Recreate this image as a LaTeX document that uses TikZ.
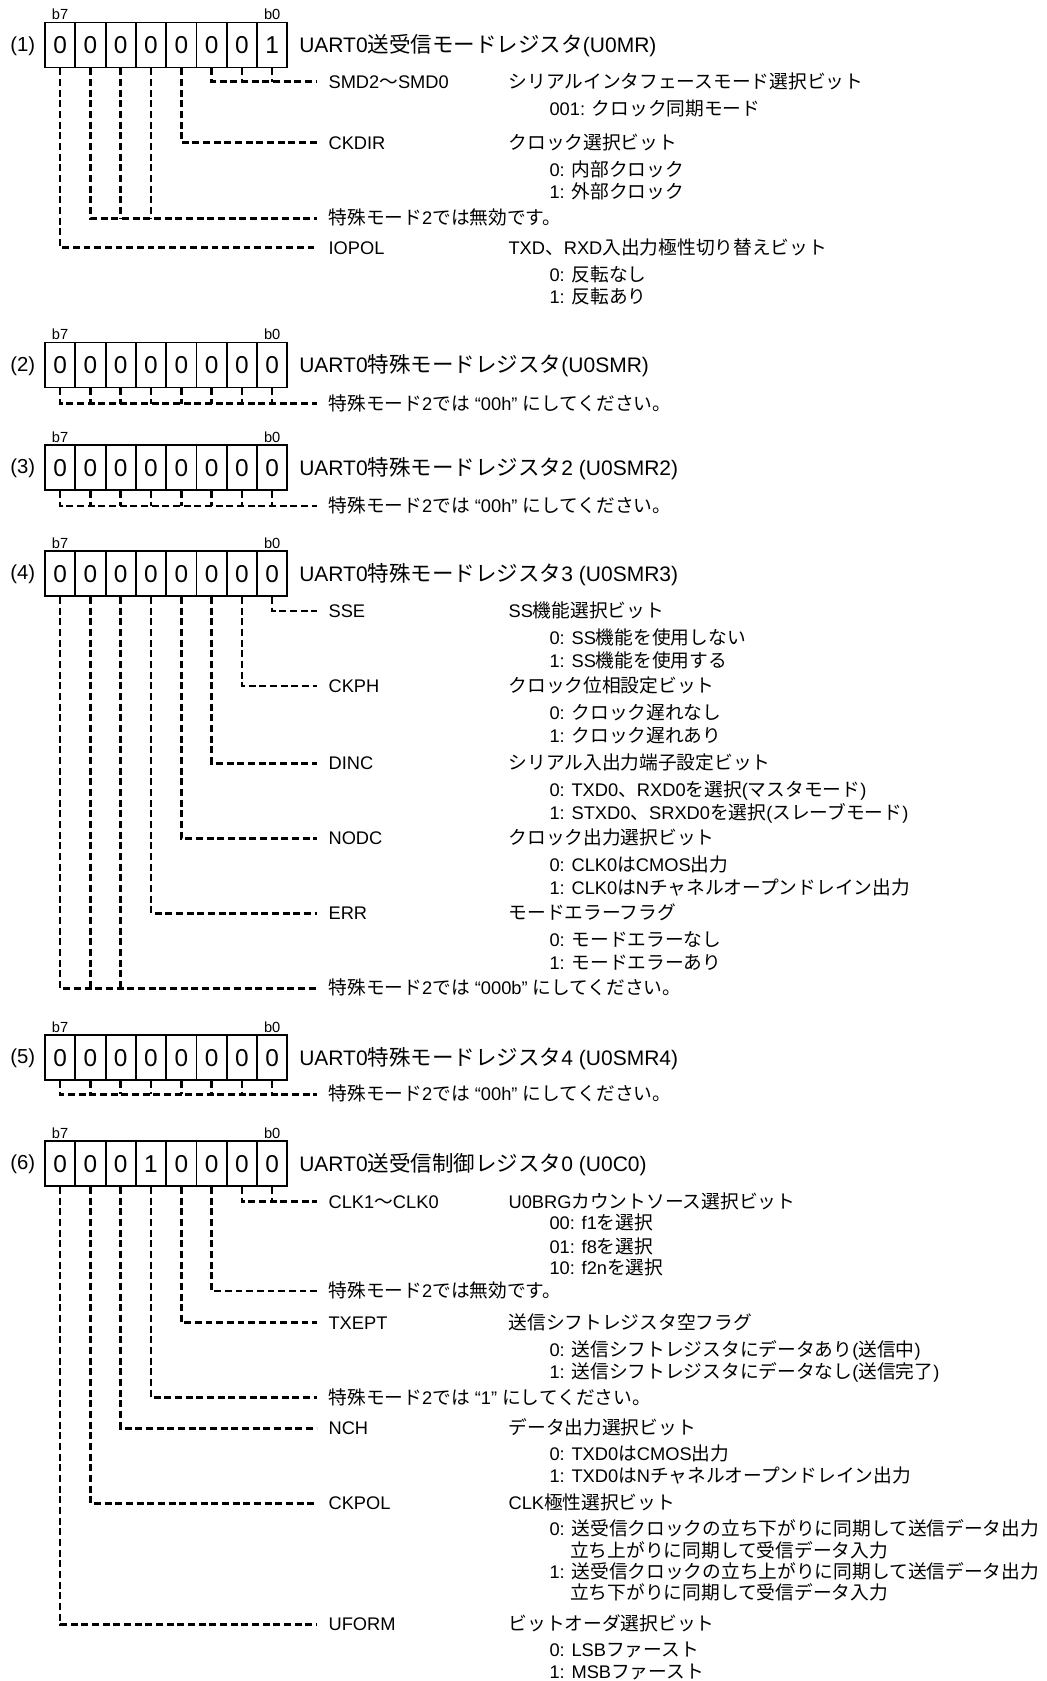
\documentclass[tikz,border=0pt]{standalone}
\usepackage{fontspec}
\setmainfont{Liberation Sans}
\newfontfamily\jpfont{Noto Sans CJK JP}[Scale=1.025]
\newXeTeXintercharclass\JPcls
\newcount\jpc
\newcommand\setcls[3]{\jpc=#1\relax\loop\XeTeXcharclass\jpc=#3\relax\ifnum\jpc<#2\relax\advance\jpc by 1\repeat}
\setcls{"0020}{"007E}{0}
\setcls{"2018}{"201D}{0}
\setcls{"3000}{"30FF}{\JPcls}
\setcls{"4E00}{"9FFF}{\JPcls}
\setcls{"FF00}{"FFEF}{\JPcls}
\XeTeXinterchartoks 0 \JPcls = {\begingroup\jpfont}
\XeTeXinterchartoks 4095 \JPcls = {\begingroup\jpfont}
\XeTeXinterchartoks \JPcls 0 = {\endgroup}
\XeTeXinterchartoks \JPcls 4095 = {\endgroup}
\XeTeXinterchartokenstate=1
\tikzset{
 cell/.style={draw, line width=1.4pt, minimum width=22.72pt, minimum height=33.75pt, inner sep=0pt,
   font=\fontsize{18.3}{20}\selectfont, text height=13.1pt, text depth=0pt},
 bitlbl/.style={anchor=base, inner sep=0pt, font=\fontsize{11}{12}\selectfont},
 numlbl/.style={anchor=base west, inner sep=0pt, font=\fontsize{15.2}{17}\selectfont},
 regtitle/.style={anchor=west, inner sep=0pt, font=\fontsize{15.75}{18}\selectfont, text height=11.3pt, text depth=0pt},
 txt/.style={anchor=west, inner sep=0pt, font=\fontsize{13.7}{16}\selectfont, text height=9.8pt, text depth=0pt},
 dl/.style={line width=1.9pt, dash pattern=on 5.2pt off 2.8pt},
}
% register: prefix, top y, number label, values, title
\newcommand\regbox[5]{%
 \foreach \v [count=\i from 0] in {#4} {%
   \pgfmathtruncatemacro\bb{7-\i}%
   \node[cell] (#1\bb) at ({60.15+30.29*\i},{#2+22.5}) {\v};
 }
 \node[bitlbl] (#1bsev) at (60.15,{#2-3}) {b7};
 \node[bitlbl] (#1bzero) at (272.2,{#2-3}) {b0};
 \node[numlbl] (#1num) at (10,{#2+28.5}) {#3};
 \node[regtitle] (#1title) at (299,{#2+22.5}) {#5};
}
\newcommand\T[4]{\node[txt] (#1) at (#2,#3) {#4};}
\newcommand\cone[2]{\draw[dl] (#1.south) |- ([xshift=-8.7pt]#2.west);}
\newcommand\cgrp[3]{\draw[dl] (#1.south) |- ([xshift=-8.7pt]#3.west);
 \foreach \q in {#2} {\draw[dl] (\q.south) -- (\q.south |- #3.west);}}
\begin{document}
\begin{tikzpicture}[x=0.75pt,y=-0.75pt]
\fill[white] (0,0) rectangle (1046,1681);
\useasboundingbox (0,0) rectangle (1046,1681);

% ---------------- (1)
\regbox{a}{22.5}{(1)}{0,0,0,0,0,0,0,1}{UART0送受信モードレジスタ(U0MR)}
\T{aL1}{328.3}{81.7}{SMD2～SMD0}
\T{aL2}{328.3}{142.7}{CKDIR}
\T{aL3}{328.3}{218.3}{特殊モード2では無効です。}
\T{aL4}{328.3}{247.7}{IOPOL}
\T{aD1}{508.3}{81.7}{シリアルインタフェースモード選択ビット}
\T{aS1}{549.3}{108.7}{001: クロック同期モード}
\T{aD2}{508.3}{142.7}{クロック選択ビット}
\T{aS2}{549.3}{169.7}{0: 内部クロック}
\T{aS3}{549.3}{192.2}{1: 外部クロック}
\T{aD4}{508.3}{247.7}{TXD、RXD入出力極性切り替えビット}
\T{aS4}{549.3}{274.7}{0: 反転なし}
\T{aS5}{549.3}{297.2}{1: 反転あり}
\cgrp{a2}{a1,a0}{aL1}
\cone{a3}{aL2}
\cgrp{a6}{a5,a4}{aL3}
\cone{a7}{aL4}

% ---------------- (2)
\regbox{b}{342.5}{(2)}{0,0,0,0,0,0,0,0}{UART0特殊モードレジスタ(U0SMR)}
\T{bL1}{328.3}{403.5}{特殊モード2では “00h” にしてください。}
\cgrp{b7}{b6,b5,b4,b3,b2,b1,b0}{bL1}

% ---------------- (3)
\regbox{c}{445}{(3)}{0,0,0,0,0,0,0,0}{UART0特殊モードレジスタ2 (U0SMR2)}
\T{cL1}{328.3}{506}{特殊モード2では “00h” にしてください。}
\cgrp{c7}{c6,c5,c4,c3,c2,c1,c0}{cL1}

% ---------------- (4)
\regbox{d}{551}{(4)}{0,0,0,0,0,0,0,0}{UART0特殊モードレジスタ3 (U0SMR3)}
\T{dL1}{328.3}{611}{SSE}
\T{dL2}{328.3}{686}{CKPH}
\T{dL3}{328.3}{763.3}{DINC}
\T{dL4}{328.3}{838.3}{NODC}
\T{dL5}{328.3}{913.3}{ERR}
\T{dL6}{328.3}{988.3}{特殊モード2では “000b” にしてください。}
\T{dD1}{508.3}{611}{SS機能選択ビット}
\T{dS1a}{549.3}{638}{0: SS機能を使用しない}
\T{dS1b}{549.3}{660.5}{1: SS機能を使用する}
\T{dD2}{508.3}{686}{クロック位相設定ビット}
\T{dS2a}{549.3}{713}{0: クロック遅れなし}
\T{dS2b}{549.3}{735.5}{1: クロック遅れあり}
\T{dD3}{508.3}{763.3}{シリアル入出力端子設定ビット}
\T{dS3a}{549.3}{790.3}{0: TXD0、RXD0を選択(マスタモード)}
\T{dS3b}{549.3}{812.8}{1: STXD0、SRXD0を選択(スレーブモード)}
\T{dD4}{508.3}{838.3}{クロック出力選択ビット}
\T{dS4a}{549.3}{865.3}{0: CLK0はCMOS出力}
\T{dS4b}{549.3}{887.8}{1: CLK0はNチャネルオープンドレイン出力}
\T{dD5}{508.3}{913.3}{モードエラーフラグ}
\T{dS5a}{549.3}{940.3}{0: モードエラーなし}
\T{dS5b}{549.3}{962.8}{1: モードエラーあり}
\cone{d0}{dL1}
\cone{d1}{dL2}
\cone{d2}{dL3}
\cone{d3}{dL4}
\cone{d4}{dL5}
\cgrp{d7}{d6,d5}{dL6}

% ---------------- (5)
\regbox{e}{1035}{(5)}{0,0,0,0,0,0,0,0}{UART0特殊モードレジスタ4 (U0SMR4)}
\T{eL1}{328.3}{1094.3}{特殊モード2では “00h” にしてください。}
\cgrp{e7}{e6,e5,e4,e3,e2,e1,e0}{eL1}

% ---------------- (6)
\regbox{f}{1141}{(6)}{0,0,0,1,0,0,0,0}{UART0送受信制御レジスタ0 (U0C0)}
\T{fL1}{328.3}{1201.7}{CLK1～CLK0}
\T{fL2}{328.3}{1291}{特殊モード2では無効です。}
\T{fL3}{328.3}{1322.7}{TXEPT}
\T{fL4}{328.3}{1397.7}{特殊モード2では “1” にしてください。}
\T{fL5}{328.3}{1428.3}{NCH}
\T{fL6}{328.3}{1503.3}{CKPOL}
\T{fL7}{328.3}{1624.3}{UFORM}
\T{fD1}{508.3}{1201.7}{U0BRGカウントソース選択ビット}
\T{fS1a}{549.3}{1223.3}{00: f1を選択}
\T{fS1b}{549.3}{1246.7}{01: f8を選択}
\T{fS1c}{549.3}{1268.3}{10: f2nを選択}
\T{fD3}{508.3}{1322.7}{送信シフトレジスタ空フラグ}
\T{fS3a}{549.3}{1350}{0: 送信シフトレジスタにデータあり(送信中)}
\T{fS3b}{549.3}{1372}{1: 送信シフトレジスタにデータなし(送信完了)}
\T{fD5}{508.3}{1428.3}{データ出力選択ビット}
\T{fS5a}{549.3}{1454}{0: TXD0はCMOS出力}
\T{fS5b}{549.3}{1475.5}{1: TXD0はNチャネルオープンドレイン出力}
\T{fD6}{508.3}{1503.3}{CLK極性選択ビット}
\T{fS6a}{549.3}{1529}{0: 送受信クロックの立ち下がりに同期して送信データ出力}
\T{fS6b}{570}{1550.5}{立ち上がりに同期して受信データ入力}
\T{fS6c}{549.3}{1571.5}{1: 送受信クロックの立ち上がりに同期して送信データ出力}
\T{fS6d}{570}{1592.5}{立ち下がりに同期して受信データ入力}
\T{fD7}{508.3}{1624.3}{ビットオーダ選択ビット}
\T{fS7a}{549.3}{1649.5}{0: LSBファースト}
\T{fS7b}{549.3}{1672}{1: MSBファースト}
\cgrp{f1}{f0}{fL1}
\cone{f2}{fL2}
\cone{f3}{fL3}
\cone{f4}{fL4}
\cone{f5}{fL5}
\cone{f6}{fL6}
\cone{f7}{fL7}
\end{tikzpicture}
\end{document}
